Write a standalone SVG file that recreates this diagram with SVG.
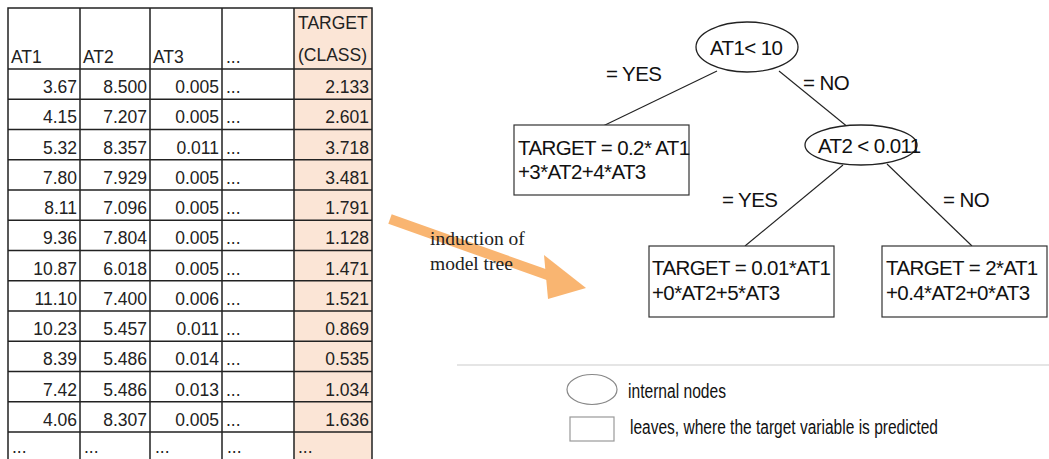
<svg xmlns="http://www.w3.org/2000/svg" width="1049" height="459" viewBox="0 0 1049 459">
<style>
.cell{font-family:"Liberation Sans",Arial,sans-serif;font-size:17.5px;fill:#222}
.num{text-anchor:end}
.grid{stroke:#222;stroke-width:1.5;fill:none}
.tree{font-family:"Liberation Sans",Arial,sans-serif;font-size:20.5px;fill:#111;letter-spacing:-0.6px}
.node{fill:#fff;stroke:#222;stroke-width:1.3}
.leaf{fill:#fff;stroke:#333;stroke-width:1.2}
.edge{stroke:#222;stroke-width:1.1;fill:none}
.leg{font-family:"Liberation Sans",Arial,sans-serif;font-size:20px;fill:#111}
.ser{font-family:"Liberation Serif","Times New Roman",serif;font-size:19.5px;fill:#222}
</style>
<rect width="1049" height="459" fill="#fff"/>
<g id="table">
<rect x="294" y="8" width="78" height="451" fill="#fbe5d6"/>
<path class="grid" d="M8 459V8H372V459M80 8V459M150 8V459M222 8V459M294 8V459"/>
<path class="grid" d="M8 69H372M8 99.25H372M8 129.5H372M8 159.75H372M8 190H372M8 220.25H372M8 250.5H372M8 280.75H372M8 311H372M8 341.25H372M8 371.5H372M8 401.75H372M8 432H372"/>
<g class="cell">
<text x="11" y="63">AT1</text><text x="83" y="63">AT2</text><text x="153" y="63">AT3</text><text x="226" y="63">...</text>
<text x="298" y="29">TARGET</text><text x="298" y="61">(CLASS)</text>
</g>
<g class="cell num">
<text x="77" y="93">3.67</text><text x="147" y="93">8.500</text><text x="219" y="93">0.005</text><text x="369" y="93">2.133</text>
<text x="77" y="123.25">4.15</text><text x="147" y="123.25">7.207</text><text x="219" y="123.25">0.005</text><text x="369" y="123.25">2.601</text>
<text x="77" y="153.5">5.32</text><text x="147" y="153.5">8.357</text><text x="219" y="153.5">0.011</text><text x="369" y="153.5">3.718</text>
<text x="77" y="183.75">7.80</text><text x="147" y="183.75">7.929</text><text x="219" y="183.75">0.005</text><text x="369" y="183.75">3.481</text>
<text x="77" y="214">8.11</text><text x="147" y="214">7.096</text><text x="219" y="214">0.005</text><text x="369" y="214">1.791</text>
<text x="77" y="244.25">9.36</text><text x="147" y="244.25">7.804</text><text x="219" y="244.25">0.005</text><text x="369" y="244.25">1.128</text>
<text x="77" y="274.5">10.87</text><text x="147" y="274.5">6.018</text><text x="219" y="274.5">0.005</text><text x="369" y="274.5">1.471</text>
<text x="77" y="304.75">11.10</text><text x="147" y="304.75">7.400</text><text x="219" y="304.75">0.006</text><text x="369" y="304.75">1.521</text>
<text x="77" y="335">10.23</text><text x="147" y="335">5.457</text><text x="219" y="335">0.011</text><text x="369" y="335">0.869</text>
<text x="77" y="365.25">8.39</text><text x="147" y="365.25">5.486</text><text x="219" y="365.25">0.014</text><text x="369" y="365.25">0.535</text>
<text x="77" y="395.5">7.42</text><text x="147" y="395.5">5.486</text><text x="219" y="395.5">0.013</text><text x="369" y="395.5">1.034</text>
<text x="77" y="425.75">4.06</text><text x="147" y="425.75">8.307</text><text x="219" y="425.75">0.005</text><text x="369" y="425.75">1.636</text>
</g>
<g class="cell">
<text x="226" y="93">...</text><text x="226" y="123.25">...</text><text x="226" y="153.5">...</text><text x="226" y="183.75">...</text><text x="226" y="214">...</text><text x="226" y="244.25">...</text><text x="226" y="274.5">...</text><text x="226" y="304.75">...</text><text x="226" y="335">...</text><text x="226" y="365.25">...</text><text x="226" y="395.5">...</text><text x="226" y="425.75">...</text>
<text x="12" y="453">...</text><text x="84" y="453">...</text><text x="155" y="453">...</text><text x="227" y="453">...</text><text x="298" y="453">...</text>
</g>
</g>
<g id="induction-arrow">
<line x1="390" y1="219" x2="556" y2="278" stroke="#f9b571" stroke-width="10"/>
<polygon points="544,255 586,288 548,299" fill="#f9b571"/>
<text class="ser" x="430" y="245">induction of</text>
<text class="ser" x="430" y="270">model tree</text>
</g>
<g id="connectors">
<line class="edge" x1="717" y1="71" x2="603" y2="126"/>
<line class="edge" x1="779" y1="71" x2="849" y2="128"/>
<line class="edge" x1="843" y1="165" x2="745" y2="246"/>
<line class="edge" x1="887" y1="164" x2="972" y2="246"/>
<text class="tree" x="606" y="81">= YES</text>
<text class="tree" x="803" y="90">= NO</text>
<text class="tree" x="722" y="207">= YES</text>
<text class="tree" x="943" y="207">= NO</text>
</g>
<g id="node-root">
<ellipse class="node" cx="747" cy="47" rx="51" ry="25"/>
<text class="tree" x="710" y="55">AT1&lt; 10</text>
</g>
<g id="node-at2">
<ellipse class="node" cx="861" cy="145" rx="56" ry="20"/>
<text class="tree" x="818" y="153">AT2 &lt; 0.011</text>
</g>
<g id="leaf-1">
<rect class="leaf" x="514" y="125" width="175" height="70"/>
<text class="tree" x="518" y="155">TARGET = 0.2* AT1</text>
<text class="tree" x="518" y="179">+3*AT2+4*AT3</text>
</g>
<g id="leaf-2">
<rect class="leaf" x="649" y="246" width="185" height="71"/>
<text class="tree" x="652" y="275">TARGET = 0.01*AT1</text>
<text class="tree" x="652" y="300">+0*AT2+5*AT3</text>
</g>
<g id="leaf-3">
<rect class="leaf" x="882" y="246" width="165" height="71"/>
<text class="tree" x="886" y="275">TARGET = 2*AT1</text>
<text class="tree" x="886" y="300">+0.4*AT2+0*AT3</text>
</g>
<g id="legend">
<line x1="457" y1="365" x2="1049" y2="365" stroke="#ddd" stroke-width="1.5"/>
<ellipse cx="592" cy="389.5" rx="25" ry="15" fill="#fff" stroke="#888" stroke-width="1.2"/>
<text class="leg" x="628" y="398" textLength="98" lengthAdjust="spacingAndGlyphs">internal nodes</text>
<rect x="570" y="417" width="44" height="24" fill="#fff" stroke="#999" stroke-width="1.2"/>
<text class="leg" x="630" y="434" textLength="308" lengthAdjust="spacingAndGlyphs">leaves, where the target variable is predicted</text>
</g>
</svg>
